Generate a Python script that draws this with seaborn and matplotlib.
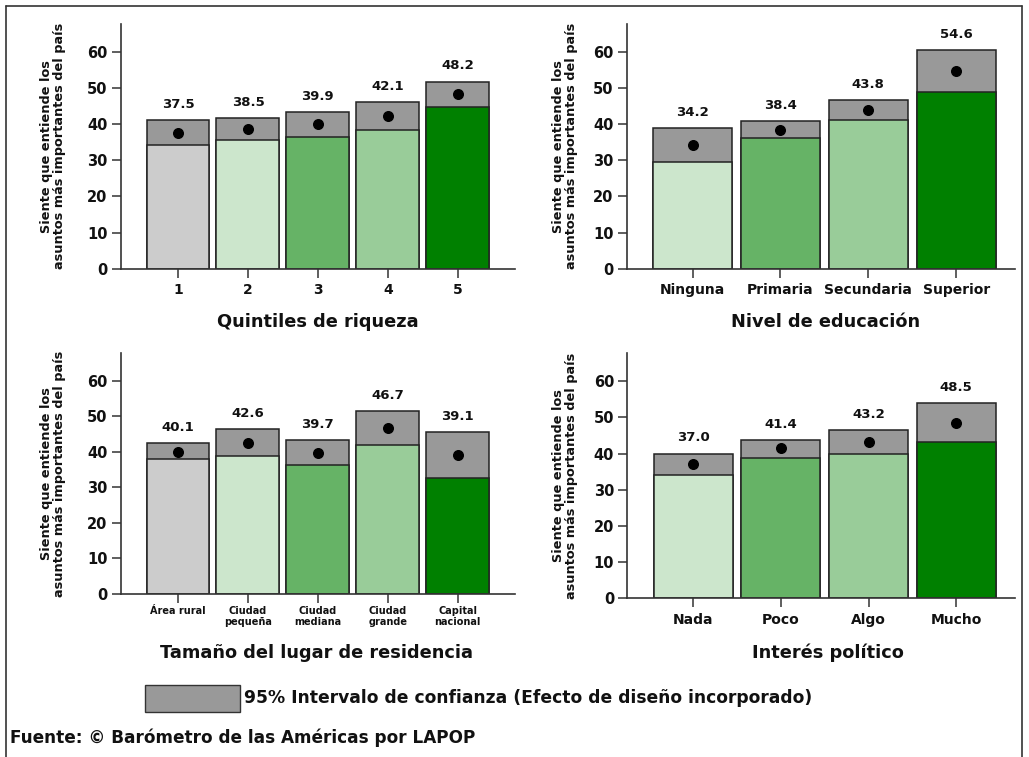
import numpy as np
import matplotlib
matplotlib.use("Agg")
import matplotlib.pyplot as plt
from matplotlib.patches import Rectangle
import seaborn as sns

# ---- data ----
quintiles = ['1', '2', '3', '4', '5']
q_mean = [37.5, 38.5, 39.9, 42.1, 48.2]
q_low = [34.3, 35.5, 36.5, 38.2, 44.6]
q_high = [41.0, 41.6, 43.3, 46.0, 51.7]

educacion = ['Ninguna', 'Primaria', 'Secundaria', 'Superior']
e_mean = [34.2, 38.4, 43.8, 54.6]
e_low = [29.5, 36.2, 41.0, 48.9]
e_high = [38.8, 40.8, 46.5, 60.4]

tamano = ['Área rural', 'Ciudad\npequeña', 'Ciudad\nmediana', 'Ciudad\ngrande', 'Capital\nnacional']
t_mean = [40.1, 42.6, 39.7, 46.7, 39.1]
t_low = [37.9, 38.8, 36.3, 42.0, 32.7]
t_high = [42.4, 46.5, 43.4, 51.5, 45.6]

interes = ['Nada', 'Poco', 'Algo', 'Mucho']
i_mean = [37.0, 41.4, 43.2, 48.5]
i_low = [34.0, 38.9, 40.0, 43.1]
i_high = [39.9, 43.7, 46.5, 53.9]

titles = ['Quintiles de riqueza', 'Nivel de educación',
          'Tamaño del lugar de residencia', 'Interés político']
ylabel = 'Siente que entiende los\nasuntos más importantes del país'

pal5 = ['#cccccc', '#cce6cc', '#66b366', '#99cc99', '#008000']
pal4 = ['#cce6cc', '#66b366', '#99cc99', '#008000']
ci_gray = '#999999'
edge = '#222222'

sns.set_style('ticks')
plt.rcParams['font.family'] = ['DejaVu Sans']
plt.rcParams['font.weight'] = 'bold'

W, H = 1029, 757
fig = plt.figure(figsize=(W / 100, H / 100), dpi=100)


def px_axes(left, right, bottom, top):
    # pixel box (y from top) -> figure fraction axes
    return fig.add_axes([left / W, 1 - bottom / H, (right - left) / W, (bottom - top) / H])


def panel(ax, cats, mean, low, high, palette, xlim, ylim_top, tick_size, tick_pad):
    sns.barplot(x=cats, y=high, color=ci_gray, saturation=1, width=0.9,
                edgecolor=edge, linewidth=1.1, errorbar=None, ax=ax)
    sns.barplot(x=cats, y=low, hue=cats, palette=palette, saturation=1, width=0.9,
                edgecolor=edge, linewidth=1.1, errorbar=None, legend=False, ax=ax)
    ax.scatter(np.arange(len(cats)), mean, s=48, color='black', zorder=5)
    for i, (m, h) in enumerate(zip(mean, high)):
        ax.text(i, h + 4.4, f'{m:.1f}', ha='center', va='center',
                fontsize=9.5, fontweight='bold', color='#111111')
    ax.set_xlim(*xlim)
    ax.set_ylim(0, ylim_top)
    ax.set_yticks(range(0, 61, 10))
    ax.set_xlabel('')
    ax.set_ylabel('')
    for s in ['top', 'right']:
        ax.spines[s].set_visible(False)
    for s in ['left', 'bottom']:
        ax.spines[s].set_color('#333333')
        ax.spines[s].set_linewidth(1.2)
    ax.tick_params(axis='y', length=6.5, width=1.1, color='#333333', labelsize=10.5, pad=3)
    ax.tick_params(axis='x', length=6.5, width=1.1, color='#333333',
                   labelsize=tick_size, pad=tick_pad)
    for lab in ax.get_xticklabels() + ax.get_yticklabels():
        lab.set_fontweight('bold')
        lab.set_color('#111111')
    ax.set_facecolor('white')


ax1 = px_axes(120.7, 515, 268.7, 24)
ax2 = px_axes(626.7, 1015, 268.7, 24)
ax3 = px_axes(120.7, 515, 593.7, 353.3)
ax4 = px_axes(627.3, 1015, 598.3, 353.3)

panel(ax1, quintiles, q_mean, q_low, q_high, pal5, (-0.82, 4.82), 67.6, 10, 4)
panel(ax2, educacion, e_mean, e_low, e_high, pal4, (-0.75, 3.67), 67.6, 10, 4)
panel(ax3, tamano, t_mean, t_low, t_high, pal5, (-0.82, 4.82), 67.8, 7, 2)
panel(ax4, interes, i_mean, i_low, i_high, pal4, (-0.75, 3.67), 67.7, 10, 4)

# rotated y labels, two lines
for ax, xpx, left in [(ax1, 53.5, 120.7), (ax2, 565, 626.7), (ax3, 53.5, 120.7), (ax4, 565, 627.3)]:
    width_px = ax.get_position().width * W
    ax.text(-(left - xpx) / width_px, 0.5, ylabel, transform=ax.transAxes,
            rotation=90, ha='center', va='center', fontsize=9.3,
            fontweight='bold', linespacing=1.0, color='#111111')

# panel titles
for t, (xc, yc) in zip(titles, [(318, 322), (826, 322), (317, 653), (828, 653)]):
    fig.text(xc / W, 1 - yc / H, t, ha='center', va='center', fontsize=12.8,
             fontweight='bold', color='#111111')

# legend box and text
fig.patches.append(Rectangle((145 / W, 1 - 712 / H), 95 / W, 27 / H,
                             transform=fig.transFigure, facecolor=ci_gray,
                             edgecolor='#333333', linewidth=1.0))
fig.text(244 / W, 1 - 698 / H, '95% Intervalo de confianza (Efecto de diseño incorporado)',
         ha='left', va='center', fontsize=12.3, fontweight='bold', color='#111111')
fig.text(10 / W, 1 - 738 / H, 'Fuente: © Barómetro de las Américas por LAPOP',
         ha='left', va='center', fontsize=12.2, fontweight='bold', color='#111111')

# outer frame (open at the bottom)
fig.add_artist(plt.Line2D([5.5 / W, 1022 / W], [1 - 5.5 / H, 1 - 5.5 / H],
                          transform=fig.transFigure, color='#333333', linewidth=1.2))
fig.add_artist(plt.Line2D([5.5 / W, 5.5 / W], [0, 1 - 5.5 / H],
                          transform=fig.transFigure, color='#333333', linewidth=1.2))
fig.add_artist(plt.Line2D([1022 / W, 1022 / W], [0, 1 - 5.5 / H],
                          transform=fig.transFigure, color='#333333', linewidth=1.2))

fig.savefig('out.png', dpi=100, facecolor='white')
